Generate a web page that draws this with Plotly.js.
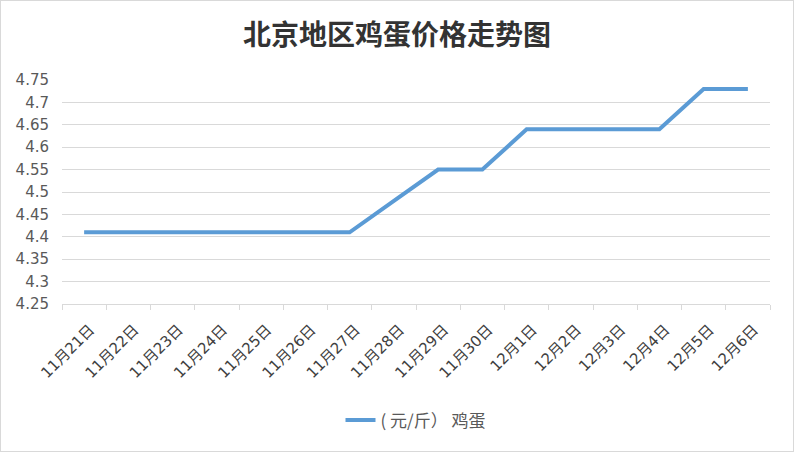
<!DOCTYPE html>
<html>
<head>
<meta charset="utf-8">
<script src="https://cdn.plot.ly/plotly-3.0.1.min.js"></script>
<style>
html,body{margin:0;padding:0;background:#fff;}
#wrap{width:794px;height:452px;box-sizing:border-box;border:1px solid #d9d9d9;}
#chart{width:792px;height:450px;}
</style>
</head>
<body>
<div id="wrap"><div id="chart"></div></div>
<script>
const categories = ["11月21日","11月22日","11月23日","11月24日","11月25日","11月26日","11月27日","11月28日","11月29日","11月30日","12月1日","12月2日","12月3日","12月4日","12月5日","12月6日"];
const eggPrices = [4.41,4.41,4.41,4.41,4.41,4.41,4.41,4.48,4.55,4.55,4.64,4.64,4.64,4.64,4.73,4.73];
const yTickVals = [4.25,4.3,4.35,4.4,4.45,4.5,4.55,4.6,4.65,4.7,4.75];
const yTickText = ["4.25","4.3","4.35","4.4","4.45","4.5","4.55","4.6","4.65","4.7","4.75"];
const seriesName = "( 元/斤） 鸡蛋";
const titleText = "北京地区鸡蛋价格走势图";

const font = "Noto Sans CJK SC, Noto Sans, sans-serif";
const tickFont = "DejaVu Sans, Noto Sans CJK SC, sans-serif";
Plotly.newPlot("chart", [{
  type: "scatter",
  mode: "lines",
  x: categories,
  y: eggPrices,
  name: seriesName,
  line: {color: "#5b9bd5", width: 4, shape: "linear"},
  showlegend: true
}], {
  width: 792, height: 450,
  margin: {l: 61, r: 23, t: 79, b: 147},
  paper_bgcolor: "#ffffff",
  plot_bgcolor: "#ffffff",
  title: {text: "<b>" + titleText + "</b>", font: {family: font, size: 28, color: "#333333"}, x: 0.5, xanchor: "center", y: 0.925, yanchor: "middle"},
  xaxis: {
    type: "category",
    range: [-0.5, 15.5],
    showgrid: false,
    showline: true, linecolor: "#d9d9d9", linewidth: 1,
    ticks: "outside", tickson: "boundaries", ticklen: 5, tickcolor: "#d9d9d9",
    tickangle: -45,
    tickfont: {family: tickFont, size: 15, color: "#404040"},
    ticklabelstandoff: 10,
    ticklabelshift: 6,
    fixedrange: true
  },
  yaxis: {
    range: [4.25, 4.75],
    tickvals: yTickVals, ticktext: yTickText,
    showgrid: true, gridcolor: "#d9d9d9", gridwidth: 1,
    zeroline: false, showline: false,
    ticks: "outside", ticklen: 9, tickcolor: "rgba(0,0,0,0)",
    tickfont: {family: tickFont, size: 15, color: "#595959"},
    fixedrange: true
  },
  legend: {
    orientation: "h", x: 0.5, xanchor: "center", y: -0.52, yanchor: "middle",
    font: {family: font, size: 17, color: "#595959"}
  }
}, {displayModeBar: false, staticPlot: true});
</script>
</body>
</html>
